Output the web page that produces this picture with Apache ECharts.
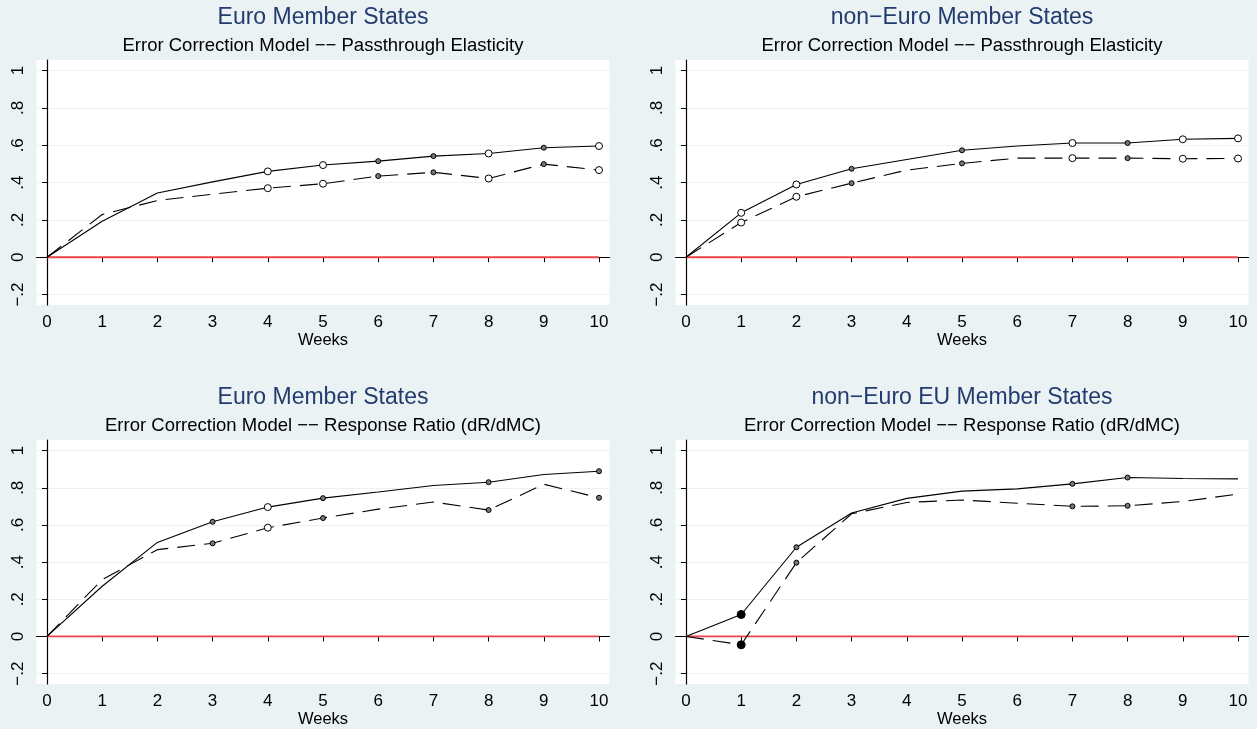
<!DOCTYPE html>
<html>
<head>
<meta charset="utf-8">
<script src="https://cdn.jsdelivr.net/npm/echarts@6/dist/echarts.min.js"></script>
<style>
html, body { margin: 0; padding: 0; background: #eaf2f3; }
#chart { width: 1257px; height: 729px; }
</style>
</head>
<body>
<div id="chart"></div>
<script>
var weeks = [0, 1, 2, 3, 4, 5, 6, 7, 8, 9, 10];
var yTicks = [-0.2, 0, 0.2, 0.4, 0.6, 0.8, 1];
var yTickLabels = ['−.2', '0', '.2', '.4', '.6', '.8', '1'];

var titles = ['Euro Member States', 'non−Euro Member States', 'Euro Member States', 'non−Euro EU Member States'];
var subtitles = [
  'Error Correction Model −− Passthrough Elasticity',
  'Error Correction Model −− Passthrough Elasticity',
  'Error Correction Model −− Response Ratio (dR/dMC)',
  'Error Correction Model −− Response Ratio (dR/dMC)'
];

// marker codes: 0 none, 1 small, 2 medium hollow, 3 big filled
var euroPassSolid = [0, 0.193, 0.344, 0.404, 0.46, 0.494, 0.515, 0.542, 0.556, 0.587, 0.596];
var euroPassDash  = [0, 0.229, 0.304, 0.338, 0.37, 0.394, 0.435, 0.455, 0.422, 0.499, 0.467];
var euroPassMarks = [0, 0, 0, 0, 2, 2, 1, 1, 2, 1, 2];

var nonPassSolid = [0, 0.238, 0.39, 0.474, 0.524, 0.573, 0.596, 0.612, 0.612, 0.632, 0.637];
var nonPassDash  = [0, 0.186, 0.324, 0.397, 0.467, 0.503, 0.531, 0.531, 0.531, 0.528, 0.529];
var nonPassMarks = [0, 2, 2, 1, 0, 1, 0, 2, 1, 2, 2];

var euroRespSolid = [0, 0.27, 0.506, 0.617, 0.696, 0.744, 0.777, 0.812, 0.83, 0.871, 0.889];
var euroRespDash  = [0, 0.306, 0.467, 0.501, 0.585, 0.637, 0.685, 0.723, 0.68, 0.819, 0.746];
var euroRespMarks = [0, 0, 0, 1, 2, 1, 0, 0, 1, 0, 1];

var nonRespSolid = [0, 0.118, 0.48, 0.664, 0.743, 0.782, 0.794, 0.821, 0.855, 0.85, 0.848];
var nonRespDash  = [0, -0.045, 0.397, 0.66, 0.721, 0.734, 0.717, 0.70, 0.703, 0.726, 0.766];
var nonRespMarks = [0, 3, 1, 0, 0, 0, 0, 1, 1, 0, 0];

var panels = [
  { solid: euroPassSolid, dash: euroPassDash, marks: euroPassMarks },
  { solid: nonPassSolid, dash: nonPassDash, marks: nonPassMarks },
  { solid: euroRespSolid, dash: euroRespDash, marks: euroRespMarks },
  { solid: nonRespSolid, dash: nonRespDash, marks: nonRespMarks }
];

var grids = [
  { left: 36.5, top: 60, width: 573, height: 245 },
  { left: 675.5, top: 60, width: 573, height: 245 },
  { left: 36.5, top: 440, width: 573, height: 244 },
  { left: 675.5, top: 440, width: 573, height: 244 }
];
var font = '"Liberation Sans", Arial, sans-serif';

function lineData(vals, marks) {
  return weeks.map(function (w, i) {
    var m = marks[i];
    var item = { value: [w, vals[i]] };
    if (m === 0) {
      item.symbol = 'none';
    } else {
      item.symbol = 'circle';
      item.symbolSize = [0, 5, 7, 8][m];
      item.itemStyle = {
        color: m === 3 ? '#000' : (m === 1 ? '#777' : '#fff'),
        borderColor: '#000',
        borderWidth: 1
      };
    }
    return item;
  });
}

var option = {
  animation: false,
  backgroundColor: '#eaf2f3',
  textStyle: { fontFamily: font },
  grid: [], xAxis: [], yAxis: [], series: [], graphic: []
};

panels.forEach(function (p, k) {
  var g = grids[k];
  option.grid.push({
    left: g.left, top: g.top, width: g.width, height: g.height,
    show: true, backgroundColor: '#fff', borderWidth: 0
  });
  option.xAxis.push({
    type: 'value', gridIndex: k, min: -0.19, max: 10.19,
    name: 'Weeks', nameLocation: 'middle', nameGap: 27,
    nameTextStyle: { fontSize: 16.5, color: '#000', fontFamily: font },
    axisLine: { lineStyle: { color: '#000', width: 1.2 } },
    axisTick: { length: 5, customValues: weeks, lineStyle: { color: '#000' } },
    axisLabel: { customValues: weeks, fontSize: 17, color: '#000', margin: 9, fontFamily: font },
    splitLine: { show: false }
  });
  option.yAxis.push({
    type: 'value', gridIndex: k, min: -0.256, max: 1.057,
    axisLine: { show: true, lineStyle: { color: '#000', width: 1.2 } },
    axisTick: { show: true, length: 5, customValues: yTicks, lineStyle: { color: '#000' } },
    axisLabel: {
      customValues: yTicks, rotate: 90, fontSize: 17, color: '#000', margin: 10, fontFamily: font,
      formatter: function (v) {
        var best = 0;
        yTicks.forEach(function (t, i) { if (Math.abs(t - v) < Math.abs(yTicks[best] - v)) best = i; });
        return yTickLabels[best];
      }
    },
    splitLine: { show: true, lineStyle: { color: '#eaf2f3', width: 1 } }
  });
  option.series.push({
    type: 'line', xAxisIndex: k, yAxisIndex: k, symbol: 'none',
    lineStyle: { color: '#ec4347', width: 1.8 },
    data: weeks.map(function (w) { return [w, 0]; })
  });
  option.series.push({
    type: 'line', xAxisIndex: k, yAxisIndex: k,
    lineStyle: { color: '#000', width: 1.1 },
    data: lineData(p.solid, p.marks)
  });
  option.series.push({
    type: 'line', xAxisIndex: k, yAxisIndex: k,
    lineStyle: { color: '#000', width: 1.1, type: [18, 9] },
    data: lineData(p.dash, p.marks)
  });
  var cx = g.left + g.width / 2;
  option.graphic.push({
    type: 'text', x: cx, y: g.top - 42,
    style: { text: titles[k], fill: '#233b6e', font: '23px ' + font, textAlign: 'center', textVerticalAlign: 'middle' }
  });
  option.graphic.push({
    type: 'text', x: cx, y: g.top - 14,
    style: { text: subtitles[k], fill: '#000', font: '18.5px ' + font, textAlign: 'center', textVerticalAlign: 'middle' }
  });
});

var chart = echarts.init(document.getElementById('chart'));
chart.setOption(option);
</script>
</body>
</html>
